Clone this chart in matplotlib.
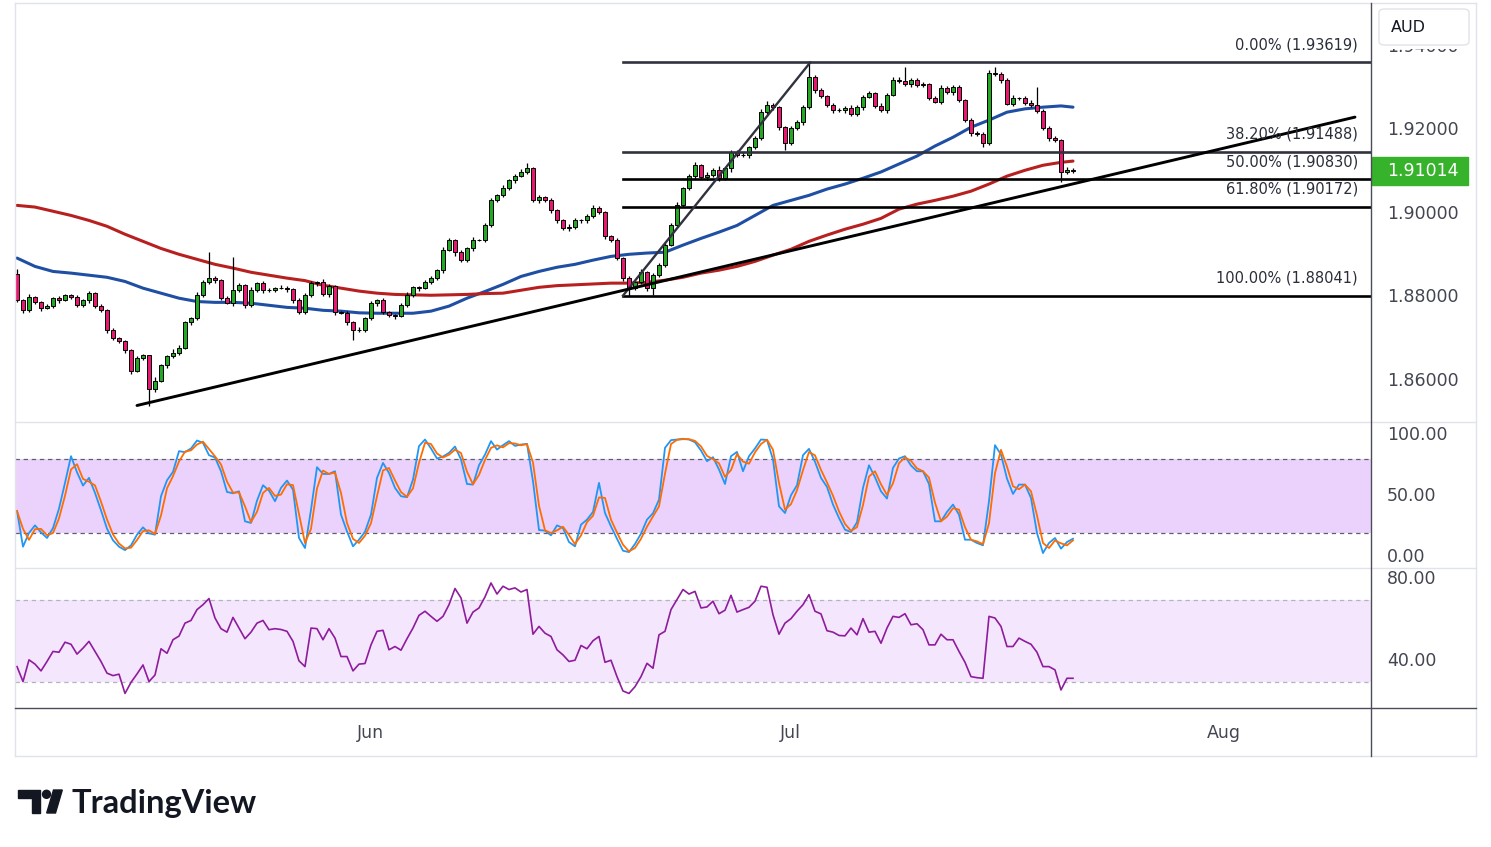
import numpy as np
import matplotlib
matplotlib.use("Agg")
import matplotlib.pyplot as plt
from matplotlib.lines import Line2D
from matplotlib.patches import Rectangle, FancyBboxPatch, Polygon, Ellipse
from matplotlib.transforms import blended_transform_factory as blend

W, H = 1491, 847

# ---- values (one bar ~ 8h, index 0 = first bar on the left) ----
first_open = 1.8857
closes = [
    1.8793, 1.8769, 1.8802, 1.8788, 1.8774, 1.8779, 1.8798, 1.8793, 1.8805, 1.8800,
    1.8781, 1.8793, 1.8810, 1.8779, 1.8769, 1.8721, 1.8702, 1.8695, 1.8673, 1.8625,
    1.8654, 1.8661, 1.8580, 1.8601, 1.8637, 1.8659, 1.8668, 1.8680, 1.8740, 1.8750,
    1.8805, 1.8836, 1.8846, 1.8841, 1.8798, 1.8786, 1.8817, 1.8829, 1.8781, 1.8817,
    1.8834, 1.8817, 1.8817, 1.8822, 1.8822, 1.8819, 1.8793, 1.8764, 1.8805, 1.8834,
    1.8836, 1.8807, 1.8826, 1.8764, 1.8762, 1.8740, 1.8721, 1.8721, 1.8750, 1.8786,
    1.8793, 1.8764, 1.8757, 1.8755, 1.8781, 1.8805, 1.8824, 1.8822, 1.8836, 1.8846,
    1.8865, 1.8913, 1.8937, 1.8908, 1.8889, 1.8917, 1.8937, 1.8937, 1.8972, 1.9032,
    1.9044, 1.9061, 1.9080, 1.9090, 1.9100, 1.9109, 1.9032, 1.9040, 1.9032, 1.9008,
    1.8984, 1.8965, 1.8968, 1.8984, 1.8984, 1.8994, 1.9013, 1.9004, 1.8946, 1.8937,
    1.8893, 1.8846, 1.8822, 1.8836, 1.8860, 1.8822, 1.8853, 1.8877, 1.8925, 1.8972,
    1.9020, 1.9061, 1.9090, 1.9116, 1.9087, 1.9092, 1.9105, 1.9085, 1.9109, 1.9147,
    1.9140, 1.9140, 1.9159, 1.9181, 1.9243, 1.9260, 1.9255, 1.9207, 1.9169, 1.9205,
    1.9219, 1.9255, 1.9327, 1.9296, 1.9282, 1.9260, 1.9248, 1.9248, 1.9253, 1.9238,
    1.9255, 1.9279, 1.9289, 1.9258, 1.9248, 1.9284, 1.9320, 1.9317, 1.9310, 1.9320,
    1.9308, 1.9310, 1.9277, 1.9267, 1.9301, 1.9291, 1.9303, 1.9272, 1.9224, 1.9193,
    1.9190, 1.9169, 1.9337, 1.9334, 1.9320, 1.9262, 1.9277, 1.9277, 1.9265, 1.9260,
    1.9246, 1.9205, 1.9181, 1.9176, 1.9100, 1.9105, 1.91014,
]
# wick lengths beyond the body, in pips
wick_hi = [
    12, 3, 5, 2, 4, 6, 3, 5, 4, 2,
    5, 3, 6, 2, 4, 3, 5, 2, 3, 4,
    6, 3, 2, 8, 4, 3, 9, 5, 3, 4,
    7, 5, 62, 4, 3, 5, 79, 6, 4, 8,
    3, 5, 6, 2, 7, 4, 3, 5, 6, 4,
    3, 8, 5, 3, 4, 6, 3, 7, 4, 5,
    3, 6, 4, 2, 5, 7, 4, 3, 6, 5,
    4, 8, 6, 3, 5, 4, 7, 3, 6, 5,
    4, 7, 3, 5, 6, 12, 4, 5, 3, 6,
    4, 3, 7, 5, 4, 6, 8, 5, 3, 4,
    6, 3, 5, 4, 7, 3, 5, 4, 6, 5,
    8, 4, 6, 9, 3, 7, 5, 10, 4, 6,
    5, 8, 4, 6, 7, 9, 5, 3, 4, 6,
    5, 4, 35, 6, 4, 3, 5, 6, 4, 7,
    5, 6, 4, 3, 7, 5, 8, 6, 33, 5,
    4, 6, 3, 5, 7, 4, 6, 5, 3, 4,
    6, 5, 7, 13, 5, 4, 6, 3, 5, 7,
    43, 4, 6, 5, 3, 6, 4,
]
wick_lo = [
    4, 6, 3, 5, 7, 3, 4, 6, 2, 5,
    4, 3, 6, 5, 4, 7, 3, 5, 6, 8,
    4, 5, 39, 6, 4, 5, 3, 7, 4, 6,
    5, 3, 4, 6, 5, 3, 7, 4, 6, 5,
    3, 6, 4, 5, 3, 7, 6, 4, 5, 3,
    6, 4, 5, 7, 3, 6, 24, 5, 4, 3,
    6, 5, 4, 7, 3, 5, 4, 6, 3, 5,
    4, 6, 3, 8, 5, 4, 6, 3, 5, 4,
    3, 5, 4, 6, 3, 4, 5, 7, 4, 6,
    5, 3, 7, 4, 6, 5, 3, 4, 6, 5,
    4, 6, 18, 5, 4, 6, 16, 4, 5, 3,
    4, 5, 3, 6, 4, 7, 5, 6, 4, 8,
    5, 4, 6, 3, 5, 4, 6, 7, 17, 5,
    4, 6, 5, 7, 4, 5, 6, 4, 7, 5,
    4, 6, 3, 5, 4, 6, 3, 5, 4, 6,
    5, 4, 6, 3, 5, 4, 7, 5, 4, 6,
    3, 10, 5, 4, 6, 3, 5, 4, 6, 5,
    4, 5, 6, 4, 25, 4, 3,
]

# moving averages, read every 3 bars
ma_idx = list(range(0, 175, 3)) + [176]
ma100 = [
    1.8894, 1.8874, 1.8862, 1.8858, 1.8853, 1.8848, 1.8838, 1.8822, 1.8810, 1.8798,
    1.8790, 1.8788, 1.8788, 1.8786, 1.8781, 1.8776, 1.8774, 1.8769, 1.8767, 1.8763,
    1.8762, 1.8762, 1.8762, 1.8767, 1.8779, 1.8798, 1.8814, 1.8831, 1.8850, 1.8862,
    1.8872, 1.8879, 1.8889, 1.8898, 1.8903, 1.8906, 1.8908, 1.8925, 1.8941, 1.8956,
    1.8972, 1.8996, 1.9020, 1.9032, 1.9044, 1.9059, 1.9071, 1.9085, 1.9100, 1.9119,
    1.9138, 1.9162, 1.9183, 1.9207, 1.9224, 1.9243, 1.9251, 1.9255, 1.9258, 1.9255,
]
ma200 = [
    1.9020, 1.9016, 1.9006, 1.8996, 1.8984, 1.8970, 1.8951, 1.8934, 1.8917, 1.8903,
    1.8891, 1.8879, 1.8870, 1.8860, 1.8853, 1.8846, 1.8840, 1.8829, 1.8822, 1.8815,
    1.8810, 1.8807, 1.8806, 1.8805, 1.8806, 1.8807, 1.8809, 1.8810, 1.8817, 1.8824,
    1.8828, 1.8830, 1.8832, 1.8834, 1.8834, 1.8836, 1.8841, 1.8848, 1.8858, 1.8865,
    1.8874, 1.8886, 1.8901, 1.8915, 1.8934, 1.8949, 1.8963, 1.8975, 1.8989, 1.9011,
    1.9023, 1.9032, 1.9042, 1.9054, 1.9071, 1.9090, 1.9104, 1.9116, 1.9123, 1.9126,
]

stoch_k = [
    38, 8.8, 20, 26.2, 20.5, 15.9, 24, 39.9, 60.9, 82.7,
    69.6, 58.7, 65, 52.7, 38.5, 23.5, 14, 8.8, 6, 9.9,
    18.6, 24.6, 19.7, 18.6, 50, 63, 69.9, 86.8, 86, 89,
    95.5, 93.6, 83.5, 81.6, 70.4, 53.5, 52.4, 54, 29.5, 28.2,
    46.4, 59, 54.6, 45.9, 56.8, 62.8, 55.4, 15.9, 7.7, 39,
    73.7, 68.2, 68.2, 70.4, 35, 21.3, 9.1, 14.5, 21, 35,
    65, 77.2, 69, 56.8, 50, 49.2, 63.6, 90.9, 96.3, 89,
    80.8, 82.4, 85.4, 90.6, 80, 60, 59.5, 75.3, 84, 95,
    88.1, 91.7, 95, 91.1, 92.2, 92.8, 62.2, 22.4, 21.9, 18.1,
    26.2, 24, 12.6, 9.1, 26.8, 30.9, 37.2, 60.9, 36.3, 25.4,
    15.3, 5.5, 4.4, 11, 19.4, 30.9, 36.1, 47.2, 89.5, 95.8,
    96.3, 96.9, 96.3, 94.1, 87.3, 78.6, 81.9, 71.8, 60, 82.7,
    86.2, 70.4, 82.7, 89, 96.3, 96, 80, 41.8, 36.3, 50.8,
    59, 83.5, 88.7, 78.1, 65, 57.6, 43.2, 32.2, 22.7, 20.8,
    28.7, 56.8, 75.3, 65.5, 54, 48.1, 73.1, 80.8, 82.7, 75.1,
    70.4, 70.4, 60, 29.5, 29.5, 37.2, 43.2, 35, 14.5, 14.5,
    11.8, 9.9, 45.9, 91.7, 84, 64.4, 51.9, 59.5, 59.5, 48.6,
    20, 3.6, 11.8, 15.9, 7.2, 12.6, 15.3,
]
rsi = [
    37.3, 30, 40.6, 38.5, 35.2, 39.8, 44.7, 44.3, 49.2, 48.2,
    43.4, 46.3, 49.6, 44.7, 39.8, 34.1, 32.9, 33.6, 24.2, 29.6,
    33.7, 38.1, 30, 33.2, 46, 43.8, 50.4, 52.2, 58.5, 59.8,
    65.1, 67.5, 70.5, 61, 55.8, 54.1, 61.3, 56.1, 50.9, 54.1,
    58.5, 59.8, 55.3, 55.8, 55.4, 54.5, 49.6, 40.1, 37.3, 56.1,
    55.8, 50.4, 55.8, 51.2, 42.2, 42.2, 35.2, 38.5, 38.8, 47.9,
    54.5, 55, 45.5, 47.1, 45.3, 50.9, 56.1, 62.3, 64.3, 61.8,
    59.4, 61.8, 67.5, 75.4, 70.8, 58.5, 63.9, 65.9, 71.3, 78.1,
    72.7, 76.5, 74.9, 75.7, 73.7, 74.9, 53.1, 56.9, 53.6, 52,
    45.5, 43, 39.8, 40.4, 47.6, 46, 49.9, 52, 39.4, 40.4,
    32.4, 25.4, 24.2, 27.5, 32.4, 38.9, 36.5, 52.8, 54.5, 65.1,
    70, 74.9, 72.7, 74, 65.9, 66.4, 69.2, 63.1, 64.8, 72.1,
    63.9, 65.1, 66.2, 69.2, 76.5, 76, 62.6, 53.1, 58.5, 60.7,
    64.3, 67.5, 72.4, 64.3, 63, 54.8, 54.1, 52.5, 52.3, 56.1,
    52.8, 60.7, 54.1, 54.5, 48.7, 56.1, 61.8, 61.3, 63.1, 57.7,
    58.2, 55.3, 47.9, 47.9, 53.1, 50.4, 50.4, 44.7, 39.4, 32.4,
    31.9, 31.6, 61.8, 61, 56.9, 47.1, 47.1, 51.2, 49.6, 48.2,
    44.3, 37.3, 37.3, 35.7, 25.9, 31.6, 31.6,
]

fib_pct = [0.0, 38.2, 50.0, 61.8, 100.0]
fib_price = [1.93619, 1.91488, 1.90830, 1.90172, 1.88041]
fib_from = (101, 1.88041)
fib_to = (132.2, 1.93619)
trend_from = (20, 1.85413)
trend_to = (223, 1.92312)
last_price = 1.91014
price_ticks = [1.86, 1.88, 1.90, 1.92, 1.94]
month_pos = [58.83, 128.83, 201.17]
month_lbl = ["Jun", "Jul", "Aug"]

GREEN = "#22a822"
PINK = "#e8176f"
TXT = "#434651"
GRID = "#e0e3eb"
DARK = "#4a4d57"


def fx(px):
    return px / W


def fy(py):
    return 1 - py / H


def ax_rect(top, bottom):
    return [fx(15), fy(bottom), fx(1371) - fx(15), fy(top) - fy(bottom)]


fig = plt.figure(figsize=(W / 100, H / 100), dpi=100)
fig.patch.set_facecolor("white")

ax = fig.add_axes(ax_rect(3, 422.5))
ax2 = fig.add_axes(ax_rect(423, 567.5))
ax3 = fig.add_axes(ax_rect(568, 708))
for a in (ax, ax2, ax3):
    a.set_axis_off()
    a.set_xlim(-1 / 3, 225.67)

# ---- price panel ----
ax.set_ylim(1.85006, 1.95042)
c = np.array(closes)
o = np.r_[first_open, c[:-1]]
x = np.arange(len(c))
hi = np.maximum(o, c) + np.array(wick_hi) * 1e-4
lo = np.minimum(o, c) - np.array(wick_lo) * 1e-4
up = c >= o

ax.plot(ma_idx, ma100, color="#1f4fa3", lw=2.2, zorder=2, solid_capstyle="round",
        solid_joinstyle="round")
ax.plot(ma_idx, ma200, color="#b8201f", lw=2.2, zorder=2, solid_capstyle="round",
        solid_joinstyle="round")

ax.vlines(x, lo, hi, color="black", lw=0.9, zorder=3)
ax.bar(x, np.maximum(np.abs(c - o), 0.00005), bottom=np.minimum(o, c), width=0.6,
       color=np.where(up, GREEN, PINK), edgecolor="black", linewidth=0.7, zorder=4)

# fibonacci retracement
for pct, p in zip(fib_pct, fib_price):
    col = "#30323d" if pct in (0.0, 38.2) else "black"
    ax.plot([fib_from[0], 225.67], [p, p], color=col, lw=1.9, zorder=5)
    ax.annotate(f"{pct:.2f}% ({p:.5f})", (223.5, p), xytext=(0, 12.5),
                textcoords="offset points", ha="right", va="center",
                fontsize=10.5, color="#2a2e39", zorder=6)
ax.plot([fib_from[0], fib_to[0]], [fib_from[1], fib_to[1]], color="#30323d", lw=1.7, zorder=5)
ax.plot([trend_from[0], trend_to[0]], [trend_from[1], trend_to[1]], color="black", lw=2.1,
        zorder=5, solid_capstyle="round")

tr = blend(ax.transAxes, ax.transData)
for p in price_ticks:
    ax.text(1.0118, p, f"{p:.5f}", transform=tr, ha="left", va="center",
            fontsize=12.5, color=TXT, clip_on=False)
ax.add_patch(Rectangle((1.0007, last_price - 0.00335), 0.0708, 0.0067, transform=tr,
                       color="#37b22b", clip_on=False, zorder=8))
ax.text(1.0118, last_price, f"{last_price:.5f}", transform=tr, ha="left", va="center",
        fontsize=12.5, color="white", clip_on=False, zorder=9)

# ---- stochastic panel ----
ax2.set_ylim(-8.2, 109.8)
k = np.array(stoch_k)
d = np.r_[k[0], (k[1:] + k[:-1]) / 2]
ax2.axhspan(20, 80, color="#ead2fc", lw=0, zorder=0)
for lv in (20, 80):
    ax2.axhline(lv, color="#5d606b", lw=0.9, ls=(0, (3.5, 3)), zorder=1)
ax2.plot(x, k, color="#2196f3", lw=1.3, zorder=3)
ax2.plot(x, d, color="#ff6d00", lw=1.3, zorder=4)
tr2 = blend(ax2.transAxes, ax2.transData)
for v in (0, 50, 100):
    ax2.text(1.0118, v, f"{v:.2f}", transform=tr2, ha="left", va="center",
             fontsize=12.5, color=TXT, clip_on=False)

# ---- RSI panel ----
ax3.set_ylim(17.1, 85.4)
ax3.axhspan(30, 70, color="#f4e6fd", lw=0, zorder=0)
for lv in (30, 70):
    ax3.axhline(lv, color="#b2b5be", lw=0.9, ls=(0, (3.5, 3)), zorder=1)
ax3.plot(x, rsi, color="#8e1c9c", lw=1.2, zorder=3)
tr3 = blend(ax3.transAxes, ax3.transData)
for v in (40, 80):
    ax3.text(1.0118, v, f"{v:.2f}", transform=tr3, ha="left", va="center",
             fontsize=12.5, color=TXT, clip_on=False)

trx = blend(ax3.transData, ax3.transAxes)
for pos, lbl in zip(month_pos, month_lbl):
    ax3.text(pos, -0.18, lbl, transform=trx, ha="center", va="center",
             fontsize=12.5, color=TXT, clip_on=False)


# ---- frame, separators ----
def fline(xs, ys, color, lw):
    fig.add_artist(Line2D([fx(v) for v in xs], [fy(v) for v in ys],
                          transform=fig.transFigure, color=color, lw=lw))


fline([15, 1476], [3, 3], GRID, 1)
fline([15, 1476], [756, 756], GRID, 1)
fline([15, 15], [3, 756], GRID, 1)
fline([1476, 1476], [3, 756], GRID, 1)
fline([15, 1476], [422.5, 422.5], GRID, 1)
fline([15, 1476], [567.5, 567.5], GRID, 1)
fline([15, 1476], [708, 708], DARK, 1)
fline([1371, 1371], [3, 756], DARK, 1)

# currency box (with its white margin) hides most of the top price label
fig.patches.append(Rectangle((fx(1373), fy(49)), fx(1475) - fx(1373), fy(4) - fy(49),
                             transform=fig.transFigure, facecolor="white", lw=0))
fig.patches.append(FancyBboxPatch((fx(1379), fy(45)), fx(1469) - fx(1379), fy(9) - fy(45),
                                  boxstyle="round,pad=0,rounding_size=0.004",
                                  transform=fig.transFigure, facecolor="white",
                                  edgecolor=GRID, lw=1))
fig.text(fx(1391), fy(27), "AUD", ha="left", va="center", fontsize=11.5, color="#131722")

# TradingView logo
logo = "#131722"
fig.patches.append(Polygon([(fx(18.3), fy(790)), (fx(40), fy(790)), (fx(40), fy(813)),
                            (fx(31.7), fy(813)), (fx(31.7), fy(797.5)), (fx(18.3), fy(797.5))],
                           closed=True, transform=fig.transFigure, color=logo))
fig.patches.append(Ellipse((fx(46.5), fy(794.3)), 8 / W, 8 / H, transform=fig.transFigure, color=logo))
fig.patches.append(Polygon([(fx(46.7), fy(813)), (fx(55.5), fy(813)), (fx(62.3), fy(790)),
                            (fx(53.5), fy(790))], closed=True, transform=fig.transFigure, color=logo))
fig.text(fx(72), fy(813), "TradingView", ha="left", va="baseline", fontsize=23.5,
         fontfamily="Lato", fontweight="bold", color=logo)

fig.savefig("out.png", dpi=100)
